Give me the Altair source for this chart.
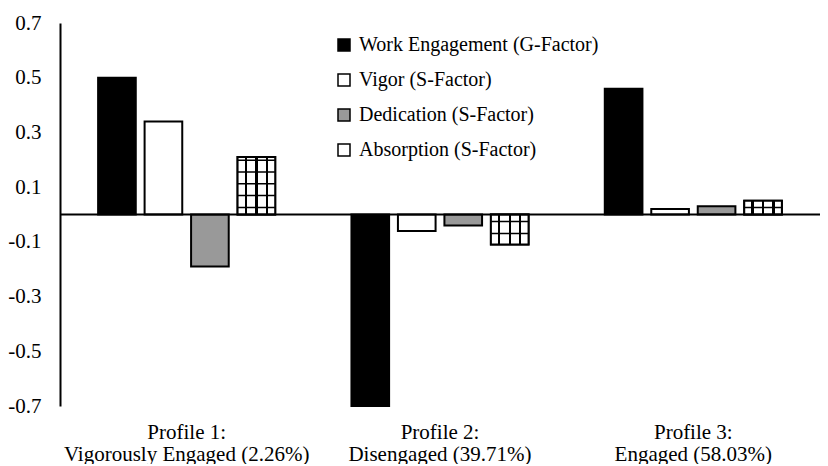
import altair as alt
import pandas as pd
import numpy as np

# ---- data ----
profiles = [
    "Profile 1:|Vigorously Engaged (2.26%)",
    "Profile 2:|Disengaged (39.71%)",
    "Profile 3:|Engaged (58.03%)",
]
series = [
    "Work Engagement (G-Factor)",
    "Vigor (S-Factor)",
    "Dedication (S-Factor)",
    "Absorption (S-Factor)",
]
work_engagement = [0.50, -0.70, 0.46]
vigor = [0.34, -0.06, 0.02]
dedication = [-0.19, -0.04, 0.03]
absorption = [0.21, -0.11, 0.05]
y_ticks = [-0.7, -0.5, -0.3, -0.1, 0.1, 0.3, 0.5, 0.7]
fills = ["#000000", "#ffffff", "#999999", "#ffffff"]

rows = []
for s, vals in zip(series, [work_engagement, vigor, dedication, absorption]):
    for p, v in zip(profiles, vals):
        rows.append({"profile": p, "series": s, "value": v})
df = pd.DataFrame(rows)

abs_df = df[df["series"] == series[3]].reset_index(drop=True)

# horizontal hatch lines inside the absorption bars (grid pattern)
hatch_rows = []
for p, v in zip(profiles, absorption):
    k = 0
    while True:
        y = 0.026 + 0.043 * k
        if y > abs(v) - 0.008:
            break
        hatch_rows.append({"profile": p, "series": series[3], "value": float(np.sign(v) * y)})
        k += 1
hatch_df = pd.DataFrame(hatch_rows)

FONT = "Liberation Serif, Times New Roman, serif"
FS = 21

x_enc = alt.X(
    "profile:N",
    sort=profiles,
    scale=alt.Scale(paddingInner=0, paddingOuter=0),
    axis=alt.Axis(
        title=None, labelExpr="split(datum.label, '|')", domain=False, ticks=False,
        labelAngle=0, labelFont=FONT, labelFontSize=FS, labelLineHeight=22,
        labelPadding=15, labelColor="black", labelLimit=0,
    ),
)
xo_enc = alt.XOffset("series:N", sort=series, scale=alt.Scale(paddingInner=0.19, paddingOuter=0.82))
y_enc = alt.Y(
    "value:Q",
    scale=alt.Scale(domain=[-0.7, 0.7], nice=False, zero=False),
    axis=alt.Axis(
        values=y_ticks, title=None, grid=False, ticks=False,
        labelExpr="(datum.value < 0 ? '-' : '') + format(abs(datum.value), '.1f')",
        domainColor="black", domainWidth=2, labelFont=FONT, labelFontSize=FS,
        labelPadding=19, labelColor="black", labelOverlap=False, labelAlign="right",
    ),
)

bars = alt.Chart(df).mark_bar(stroke="black", strokeWidth=2).encode(
    x=x_enc,
    xOffset=xo_enc,
    y=y_enc,
    fill=alt.Fill(
        "series:N", sort=series,
        scale=alt.Scale(domain=series, range=fills),
        legend=alt.Legend(
            title=None, orient="none", legendX=274, legendY=12,
            symbolType="square", symbolSize=144, symbolStrokeColor="black",
            symbolStrokeWidth=1.5, labelFont=FONT, labelFontSize=20,
            labelColor="black", rowPadding=15, labelOffset=5, labelLimit=0,
        ),
    ),
)

stops = [alt.GradientStop(color="white", offset=0)]
for c in [0.22, 0.5, 0.78]:
    stops += [
        alt.GradientStop(color="white", offset=c - 0.03),
        alt.GradientStop(color="black", offset=c - 0.03),
        alt.GradientStop(color="black", offset=c + 0.03),
        alt.GradientStop(color="white", offset=c + 0.03),
    ]
stops.append(alt.GradientStop(color="white", offset=1))
vgrad = alt.LinearGradient(gradient="linear", stops=stops, x1=0, x2=1, y1=0, y2=0)

abs_bars = alt.Chart(abs_df).mark_bar(stroke="black", strokeWidth=2, fill=vgrad).encode(
    x=x_enc, xOffset=xo_enc, y=y_enc
)

hatch = alt.Chart(hatch_df).mark_tick(
    orient="horizontal", color="black", thickness=1.5, size=37, opacity=1
).encode(x=x_enc, xOffset=xo_enc, y=y_enc)

zero = alt.Chart(pd.DataFrame({"value": [0.0]})).mark_rule(color="black", strokeWidth=2).encode(
    y=y_enc
)

chart = (
    alt.layer(bars, abs_bars, hatch, zero)
    .properties(
        width=760, height=383,
        autosize=alt.AutoSizeParams(type="none"),
        padding={"left": 52, "top": 15, "right": 0, "bottom": 58},
    )
    .configure_view(stroke=None)
)

chart.save("out.html", embed_options={"renderer": "svg", "actions": False})
